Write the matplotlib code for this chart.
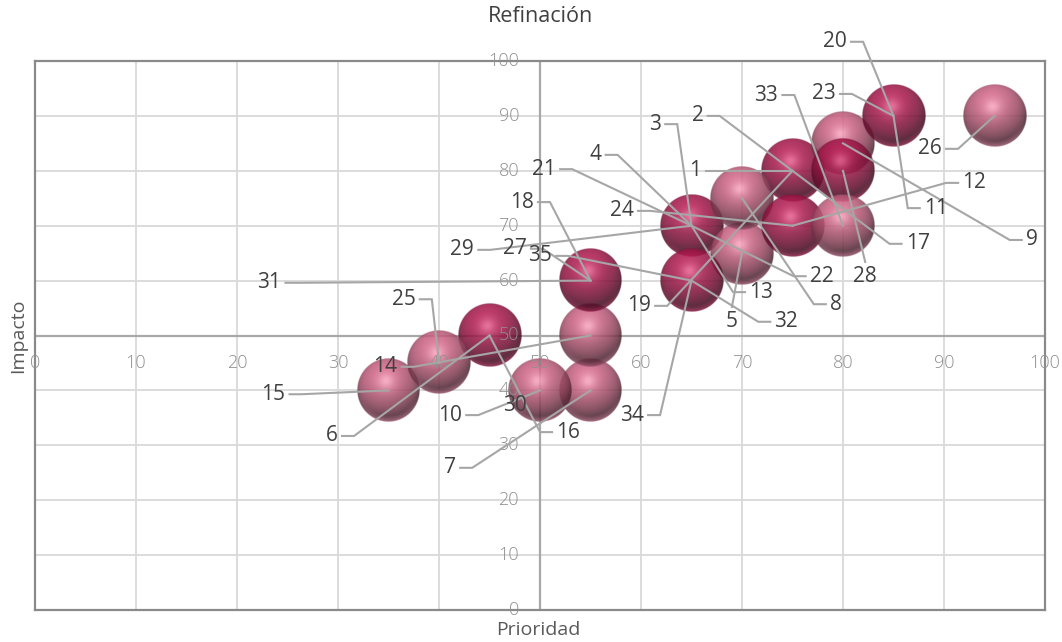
import numpy as np
import matplotlib
matplotlib.use("Agg")
import matplotlib.pyplot as plt
from matplotlib.colors import to_rgb

# ---- data -------------------------------------------------------------
ids = list(range(1, 36))
prioridad = [75, 75, 65, 65, 70, 45, 55, 70, 80, 50,
             85, 75, 65, 55, 35, 45, 75, 55, 75, 85,
             65, 65, 85, 75, 40, 95, 55, 80, 65, 50,
             55, 65, 80, 65, 65]
impacto = [80, 80, 70, 70, 65, 50, 40, 75, 85, 40,
           90, 70, 70, 50, 40, 50, 80, 60, 80, 90,
           70, 70, 90, 70, 45, 90, 60, 80, 70, 40,
           60, 60, 70, 60, 60]
# 1 = dark crimson group, 0 = pink group
grupo = [1, 1, 1, 1, 0, 1, 0, 0, 0, 0,
         1, 1, 1, 0, 0, 1, 1, 1, 1, 1,
         1, 1, 1, 1, 0, 0, 1, 1, 1, 0,
         1, 1, 0, 1, 1]

ticks = list(range(0, 101, 10))
titulo = "Refinación"
eje_x = "Prioridad"
eje_y = "Impacto"

# ---- label placement (leader start point, side of the stub) ----------
label_pos = {
    1: (66.4, 80.0, "R"), 2: (66.6, 90.0, "R"), 3: (62.4, 88.5, "R"),
    4: (56.5, 82.9, "R"), 5: (69.0, 55.2, "T"), 6: (30.4, 31.7, "R"),
    7: (42.1, 25.9, "R"), 8: (78.3, 55.7, "L"), 9: (97.7, 67.4, "L"),
    10: (42.7, 35.5, "R"), 11: (87.6, 73.2, "L"), 12: (91.4, 77.8, "L"),
    13: (70.3, 57.9, "L"), 14: (36.3, 44.3, "R"), 15: (25.2, 39.3, "R"),
    16: (51.2, 32.4, "L"), 17: (85.8, 66.7, "L"), 18: (49.8, 74.3, "R"),
    19: (61.4, 55.4, "R"), 20: (80.8, 103.5, "R"), 21: (52.0, 80.3, "R"),
    22: (76.3, 60.8, "L"), 23: (79.7, 94.0, "R"), 24: (59.7, 72.7, "R"),
    25: (38.1, 56.6, "R"), 26: (90.2, 84.0, "R"), 27: (49.1, 65.8, "R"),
    28: (82.2, 63.4, "T"), 29: (43.9, 65.6, "R"), 30: (47.5, 37.3, "N"),
    31: (24.8, 59.6, "R"), 32: (72.8, 52.5, "L"), 33: (74.0, 93.8, "R"),
    34: (60.7, 35.5, "R"), 35: (51.6, 64.5, "R"),
}

FONT = ["Open Sans", "DejaVu Sans"]
plt.rcParams["font.family"] = FONT

W, H, DPI = 1062, 642, 100
fig = plt.figure(figsize=(W / DPI, H / DPI), dpi=DPI)
left_px, right_px, top_px, bottom_px = 35, 1045, 61, 610
ax = fig.add_axes([left_px / W, 1 - bottom_px / H,
                   (right_px - left_px) / W, (bottom_px - top_px) / H])
ax.set_xlim(0, 100)
ax.set_ylim(0, 100)
ax.set_xticks([])
ax.set_yticks([])
for s in ax.spines.values():
    s.set_color("#8a8a8a")
    s.set_linewidth(1.6)

px_x = (right_px - left_px) / 100.0   # pixels per x unit
px_y = (bottom_px - top_px) / 100.0   # pixels per y unit

# grid
for t in ticks:
    ax.axvline(t, color="#d9d9d9", lw=1.3, zorder=0.5)
    ax.axhline(t, color="#d9d9d9", lw=1.3, zorder=0.5)
# centre axes
ax.axvline(50, color="#a8a8a8", lw=1.6, zorder=0.8)
ax.axhline(50, color="#a8a8a8", lw=1.6, zorder=0.8)


def sphere(base_hex, hi_hex, n=180):
    base = np.array(to_rgb(base_hex))
    hi = np.array(to_rgb(hi_hex))
    t = np.linspace(-1, 1, n)
    u, v = np.meshgrid(t, -t)
    r2 = u ** 2 + v ** 2
    r = np.sqrt(r2)
    nz = np.sqrt(np.clip(1 - r2, 0, 1))
    L = np.array([-0.15, 0.55, 0.82])
    L /= np.linalg.norm(L)
    diff = np.clip(u * L[0] + v * L[1] + nz * L[2], 0, 1)
    Hv = L + np.array([0, 0, 1.0])
    Hv /= np.linalg.norm(Hv)
    nh = np.clip(u * Hv[0] + v * Hv[1] + nz * Hv[2], 0, 1)
    shade = 0.38 + 0.68 * diff
    col = base[None, None, :] * shade[..., None]
    spec = 0.55 * nh ** 18 + 0.25 * nh ** 70
    col = col + np.clip(spec, 0, 1)[..., None] * (hi - col)
    # reflected light along the lower rim
    rim = np.clip(-v - 0.2, 0, 1) * np.clip((r - 0.8) / 0.18, 0, 1)
    light = np.clip(base * 1.3 + 0.08, 0, 1)
    col = col + 0.5 * rim[..., None] * (light - col)
    col = np.clip(col, 0, 1)
    alpha = np.clip((1 - r) * n / 2.5, 0, 1) * 0.86
    return np.dstack([col, alpha])


img = {1: sphere("#a8184c", "#f06a96"), 0: sphere("#c65f80", "#ffb0c8")}
R_PX = 31.5
dx, dy = R_PX / px_x, R_PX / px_y

seen = set()
for x, y, g in zip(prioridad, impacto, grupo):
    if (x, y) in seen:
        continue
    seen.add((x, y))
    ax.imshow(img[g], extent=[x - dx, x + dx, y - dy, y + dy],
              origin="upper", interpolation="bilinear", zorder=2)
ax.set_xlim(0, 100)
ax.set_ylim(0, 100)
ax.set_aspect("auto")

# tick labels along the centre axes
tick_col = "#8f8f8f"
for t in ticks:
    ax.text(t, 50 - 27 / px_y, str(t), ha="center", va="center",
            fontsize=13, color=tick_col, fontweight="light", zorder=3,
            clip_on=False)
    ax.text(50 - 21 / px_x, t, str(t), ha="right", va="center",
            fontsize=13, color=tick_col, fontweight="light", zorder=3,
            clip_on=False)

# data labels with leader lines
lead_col = "#a6a6a6"
stub = 12 / px_x
for i, x, y in zip(ids, prioridad, impacto):
    sx, sy, side = label_pos[i]
    kw = dict(fontsize=15, color="#404040", zorder=6, va="center",
              annotation_clip=False)
    if side == "R":
        ax.plot([sx, sx + stub, x], [sy, sy, y], color=lead_col, lw=1.5,
                zorder=5, clip_on=False, solid_joinstyle="miter")
        ax.annotate(str(i), (sx, sy), xytext=(-3, 0),
                    textcoords="offset points", ha="right", **kw)
    elif side == "L":
        ax.plot([sx, sx - stub, x], [sy, sy, y], color=lead_col, lw=1.5,
                zorder=5, clip_on=False, solid_joinstyle="miter")
        ax.annotate(str(i), (sx, sy), xytext=(3, 0),
                    textcoords="offset points", ha="left", **kw)
    elif side == "T":
        ax.plot([sx, x], [sy, y], color=lead_col, lw=1.5, zorder=5,
                clip_on=False)
        kw["va"] = "top"
        ax.annotate(str(i), (sx, sy), xytext=(0, -3),
                    textcoords="offset points", ha="center", **kw)
    else:
        ax.annotate(str(i), (sx, sy), ha="center", **kw)

fig.text(541 / W, 1 - 17 / H, titulo, ha="center", va="center",
         fontsize=15.5, color="#404040")
fig.text(538 / W, 1 - 630 / H, eje_x, ha="center", va="center",
         fontsize=14, color="#595959")
fig.text(18 / W, 1 - 336 / H, eje_y, ha="center", va="center",
         rotation=90, fontsize=14, color="#595959")

fig.savefig("out.png", dpi=DPI)
